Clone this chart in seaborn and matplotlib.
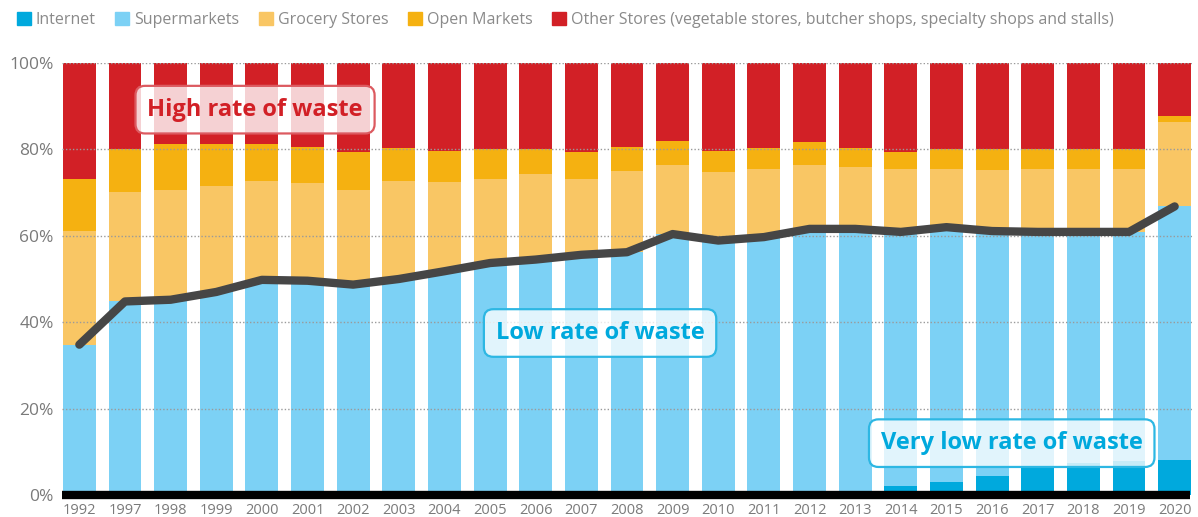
import matplotlib
matplotlib.use("Agg")
import matplotlib.pyplot as plt
import matplotlib.patches as mpatches
import numpy as np
import seaborn as sns

# data (shares in %)
years = ["1992", "1997", "1998", "1999", "2000", "2001", "2002", "2003", "2004",
         "2005", "2006", "2007", "2008", "2009", "2010", "2011", "2012", "2013",
         "2014", "2015", "2016", "2017", "2018", "2019", "2020"]
internet = [0, 0, 0, 0, 0, 0, 0, 0, 0, 0, 0, 0, 0, 0, 0, 0, 0, 0,
            2.1, 2.9, 4.4, 6.5, 7.3, 7.9, 8.1]
supermarkets = [34.8, 44.8, 45.2, 47.0, 49.8, 49.6, 48.7, 50.0, 51.8, 53.7, 54.5,
                55.6, 56.2, 60.4, 58.9, 59.7, 61.6, 61.6, 58.8, 59.1, 56.7, 54.4,
                53.6, 53.0, 58.7]
grocery = [26.4, 25.4, 25.5, 24.5, 23.0, 22.7, 22.0, 22.6, 20.6, 19.5, 19.7, 17.6,
           18.7, 16.1, 15.9, 15.8, 14.9, 14.4, 14.6, 13.5, 14.2, 14.6, 14.6, 14.6,
           19.6]
open_markets = [12.0, 10.0, 10.6, 9.8, 8.5, 8.3, 8.6, 7.8, 7.3, 6.8, 6.0, 6.3, 5.7,
                5.5, 4.9, 4.9, 5.1, 4.4, 4.0, 4.5, 4.7, 4.5, 4.5, 4.5, 1.4]
other = [26.8, 19.8, 18.7, 18.7, 18.7, 19.4, 20.7, 19.6, 20.3, 20.0, 19.8, 20.5,
         19.4, 18.0, 20.3, 19.6, 18.4, 19.6, 20.5, 20.0, 20.0, 20.0, 20.0, 20.0,
         12.2]

series = [
    ("Internet", internet, "#00a9dd"),
    ("Supermarkets", supermarkets, "#7cd1f5"),
    ("Grocery Stores", grocery, "#f9c664"),
    ("Open Markets", open_markets, "#f5b111"),
    ("Other Stores (vegetable stores, butcher shops, specialty shops and stalls)", other, "#d22026"),
]

sns.set_style("white")
plt.rcParams["font.family"] = ["Open Sans", "DejaVu Sans"]

fig = plt.figure(figsize=(11.98, 5.17), dpi=100)
ax = fig.add_axes([62 / 1198, 22 / 517, 1130 / 1198, 432 / 517])

bottom = np.zeros(len(years))
for name, vals, col in series:
    sns.barplot(x=years, y=vals, bottom=bottom, color=col, saturation=1,
                width=0.72, ax=ax, zorder=2, edgecolor="none")
    bottom = bottom + np.array(vals)

# line: share of internet + supermarkets
low_waste = np.array(internet) + np.array(supermarkets)
ax.plot(np.arange(len(years)), low_waste, color="#464646", lw=6,
        solid_capstyle="round", solid_joinstyle="round", zorder=5)

ax.set_xlim(-0.38, len(years) - 0.62)
ax.set_ylim(0, 100)
ax.set_yticks([0, 20, 40, 60, 80, 100])
ax.set_yticklabels([f"{v}%" for v in [0, 20, 40, 60, 80, 100]])
for v in [20, 40, 60, 80, 100]:
    ax.axhline(v, color="#9a9a9a", lw=1.0, ls=(0, (1, 1.5)), zorder=3)
ax.axhline(0, xmin=0, xmax=0.998, color="black", lw=6, zorder=6,
           clip_on=False, solid_capstyle="butt")

ax.tick_params(axis="y", length=0, pad=6, labelsize=12.5, labelcolor="#7a7a7a")
ax.tick_params(axis="x", length=0, pad=6, labelsize=10.5, labelcolor="#7a7a7a")
ax.set_xlabel("")
ax.set_ylabel("")
sns.despine(ax=ax, left=True, bottom=True)

# annotation boxes
ax.text(3.85, 89.2, "High rate of waste", ha="center", va="center",
        fontsize=17, fontweight="bold", color="#d22026", zorder=8,
        bbox=dict(boxstyle="round,pad=0.5,rounding_size=0.4",
                  fc=(1, 1, 1, 0.8), ec="#dc5a60", lw=1.6))
ax.text(11.41, 37.5, "Low rate of waste", ha="center", va="center",
        fontsize=17, fontweight="bold", color="#00a9dd", zorder=8,
        bbox=dict(boxstyle="round,pad=0.5,rounding_size=0.4",
                  fc=(1, 1, 1, 0.78), ec="#2db7e3", lw=1.6))
ax.text(20.43, 12.0, "Very low rate of waste", ha="center", va="center",
        fontsize=17, fontweight="bold", color="#00a9dd", zorder=8,
        bbox=dict(boxstyle="round,pad=0.5,rounding_size=0.4",
                  fc=(1, 1, 1, 0.78), ec="#2db7e3", lw=1.6))

handles = [mpatches.Patch(color=c, label=n) for n, _, c in series]
leg = fig.legend(handles=handles, loc="upper left", bbox_to_anchor=(0.002, 1.005),
                 ncol=5, frameon=False, fontsize=11.5, handlelength=0.9,
                 handleheight=0.9, handletextpad=0.3, columnspacing=1.2,
                 labelcolor="#8a8a8a")

fig.savefig("out.png", dpi=100)
